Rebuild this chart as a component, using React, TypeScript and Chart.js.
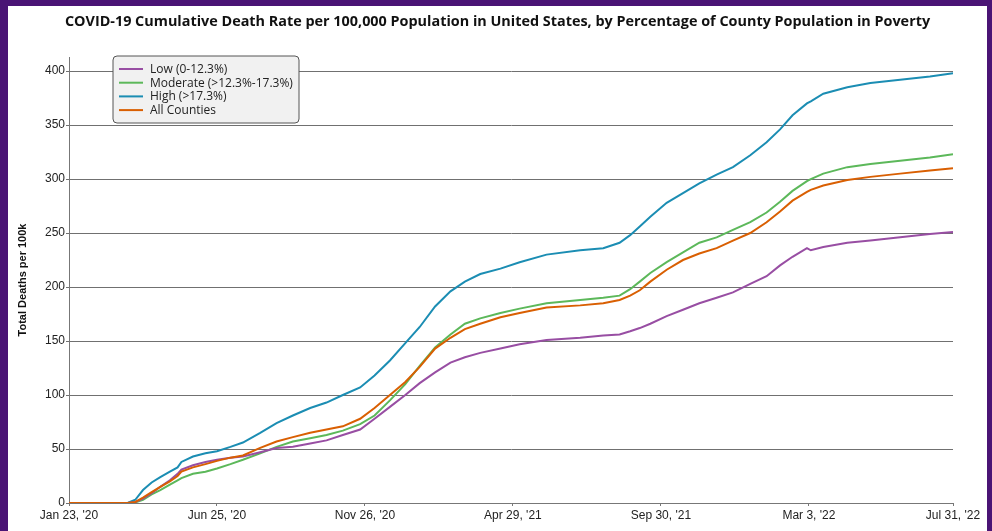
import React, { useEffect, useRef } from "react";
import { Chart, registerables } from "chart.js";

Chart.register(...registerables);

const TITLE =
  "COVID-19 Cumulative Death Rate per 100,000 Population in United States, by Percentage of County Population in Poverty";
const Y_TITLE = "Total Deaths per 100k";

// days since Jan 23, 2020
const dayOffsets = [
  0, 61, 69, 77, 86, 95, 105, 113, 117, 129, 142, 154, 168, 181, 199, 216, 233, 251, 268, 285, 303, 318,
  334, 350, 365, 381, 397, 412, 428, 449, 469, 497, 532, 556, 573, 584, 594, 605, 622, 639, 656, 674, 691,
  709, 726, 740, 753, 768, 772, 785, 810, 834, 865, 896, 920,
];

const lowValues = [
  0, 0, 1, 4, 9, 15, 21, 27, 31, 35, 38, 40, 42, 43, 47, 51, 52, 55, 58, 63, 68, 78, 89, 100, 111, 121, 130,
  135, 139, 143, 147, 151, 153, 155, 156, 159, 162, 166, 173, 179, 185, 190, 195, 203, 210, 220, 228, 236,
  234, 237, 241, 243, 246, 249, 251,
];

const moderateValues = [
  0, 0, 0.5, 3, 8, 12, 17, 21, 23, 27, 29, 32, 36, 40, 46, 52, 57, 60, 63, 67, 73, 81, 95, 110, 127, 144, 156,
  166, 171, 176, 180, 185, 188, 190, 192, 198, 205, 213, 223, 232, 241, 246, 253, 260, 269, 279, 289, 298,
  300, 305, 311, 314, 317, 320, 323,
];

const highValues = [
  0, 0, 3, 12, 19, 24, 29, 33, 38, 43, 46, 48, 52, 56, 65, 74, 81, 88, 93, 100, 107, 118, 132, 148, 163, 182,
  196, 205, 212, 217, 223, 230, 234, 236, 241, 248, 256, 265, 278, 287, 296, 304, 311, 322, 334, 346, 359,
  370, 372, 379, 385, 389, 392, 395, 398,
];

const allCountiesValues = [
  0, 0, 1, 5, 10, 15, 20, 25, 29, 33, 36, 39, 42, 44, 51, 57, 61, 65, 68, 71, 78, 88, 100, 112, 126, 143, 153,
  161, 166, 172, 176, 181, 183, 185, 188, 192, 197, 205, 216, 225, 231, 236, 243, 250, 260, 270, 280, 288,
  290, 294, 299, 302, 305, 308, 310,
];

const seriesLabels = ["Low (0-12.3%)", "Moderate (>12.3%-17.3%)", "High (>17.3%)", "All Counties"];
const seriesColors = ["#984ea3", "#5cb85a", "#1b8db3", "#d95f02"];

const xTickDays = [0, 154, 308, 462, 616, 770, 920];
const xTickLabels = ["Jan 23, '20", "Jun 25, '20", "Nov 26, '20", "Apr 29, '21", "Sep 30, '21", "Mar 3, '22", "Jul 31, '22"];
const yTickValues = [0, 50, 100, 150, 200, 250, 300, 350, 400];

const titlePlugin = {
  id: "customTitle",
  afterDraw(chart: any) {
    const ctx = chart.ctx as CanvasRenderingContext2D;
    ctx.save();
    ctx.font = 'bold 14.4px "Open Sans"';
    ctx.fillStyle = "#111";
    ctx.textAlign = "center";
    ctx.textBaseline = "middle";
    ctx.fillText(TITLE, chart.width / 2, 16);
    ctx.restore();
  },
};

const legendBoxPlugin = {
  id: "legendBox",
  afterDraw(chart: any) {
    const ctx = chart.ctx as CanvasRenderingContext2D;
    const x = 105,
      y = 50,
      w = 186,
      h = 67,
      r = 4;
    ctx.save();
    ctx.beginPath();
    ctx.moveTo(x + r, y);
    ctx.lineTo(x + w - r, y);
    ctx.quadraticCurveTo(x + w, y, x + w, y + r);
    ctx.lineTo(x + w, y + h - r);
    ctx.quadraticCurveTo(x + w, y + h, x + w - r, y + h);
    ctx.lineTo(x + r, y + h);
    ctx.quadraticCurveTo(x, y + h, x, y + h - r);
    ctx.lineTo(x, y + r);
    ctx.quadraticCurveTo(x, y, x + r, y);
    ctx.closePath();
    ctx.fillStyle = "#f1f1f1";
    ctx.fill();
    ctx.strokeStyle = "#555";
    ctx.lineWidth = 1;
    ctx.stroke();
    ctx.font = '12px "Open Sans"';
    ctx.textBaseline = "middle";
    ctx.textAlign = "left";
    seriesLabels.forEach((label, i) => {
      const ly = y + 13 + i * 13.7;
      ctx.beginPath();
      ctx.moveTo(x + 6, ly);
      ctx.lineTo(x + 30, ly);
      ctx.strokeStyle = seriesColors[i];
      ctx.lineWidth = 2;
      ctx.stroke();
      ctx.fillStyle = "#222";
      ctx.fillText(label, x + 37, ly + 0.5);
    });
    ctx.restore();
  },
};

export default function App() {
  const ref = useRef<HTMLCanvasElement | null>(null);

  useEffect(() => {
    if (!ref.current) return;
    const seriesValues = [lowValues, moderateValues, highValues, allCountiesValues];
    const drawOrder = [1, 2, 3, 0];
    const chart = new Chart(ref.current, {
      type: "line",
      data: {
        datasets: seriesValues.map((vals, i) => ({
          label: seriesLabels[i],
          data: dayOffsets.map((d, j) => ({ x: d, y: vals[j] })),
          borderColor: seriesColors[i],
          backgroundColor: seriesColors[i],
          borderWidth: 2,
          pointRadius: 0,
          tension: 0,
          fill: false,
          order: drawOrder[i],
        })),
      },
      options: {
        animation: false,
        responsive: false,
        layout: { padding: { left: 0, right: 34, top: 51, bottom: 0 } },
        plugins: {
          legend: { display: false },
          tooltip: { enabled: false },
          title: { display: false },
        },
        scales: {
          x: {
            type: "linear",
            min: 0,
            max: 920,
            afterBuildTicks: (s: any) => {
              s.ticks = xTickDays.map((v) => ({ value: v }));
            },
            afterFit: (s: any) => {
              s.height = 28;
            },
            ticks: {
              autoSkip: false,
              maxRotation: 0,
              padding: 2,
              color: "#222",
              font: { family: "Liberation Sans", size: 12 },
              callback: (v: any) => {
                const i = xTickDays.indexOf(Number(v));
                return i >= 0 ? xTickLabels[i] : "";
              },
            },
            grid: { drawOnChartArea: false, drawTicks: true, tickLength: 3, color: "#777" },
            border: { color: "#777", width: 1 },
          },
          y: {
            type: "linear",
            min: 0,
            max: 413,
            afterBuildTicks: (s: any) => {
              s.ticks = yTickValues.map((v) => ({ value: v }));
            },
            afterFit: (s: any) => {
              s.width = 61;
            },
            ticks: {
              padding: 1,
              color: "#222",
              font: { family: "Liberation Sans", size: 12 },
            },
            grid: { color: "#707070", lineWidth: 1, tickLength: 3 },
            border: { color: "#777", width: 1 },
            title: {
              display: true,
              text: Y_TITLE,
              color: "#111",
              font: { family: "Liberation Sans", size: 11, weight: "bold" },
              padding: { top: 8, bottom: 0 },
            },
          },
        },
      },
      plugins: [titlePlugin, legendBoxPlugin],
    } as any);
    return () => chart.destroy();
  }, []);

  return (
    <div style={{ position: "fixed", left: 0, top: 0, width: 992, height: 531, background: "#4a1475", overflow: "hidden" }}>
      <div style={{ position: "absolute", left: 8, top: 6, width: 979, height: 525, background: "#fff" }}>
        <canvas ref={ref} width={979} height={525} style={{ display: "block", width: 979, height: 525 }} />
      </div>
    </div>
  );
}
